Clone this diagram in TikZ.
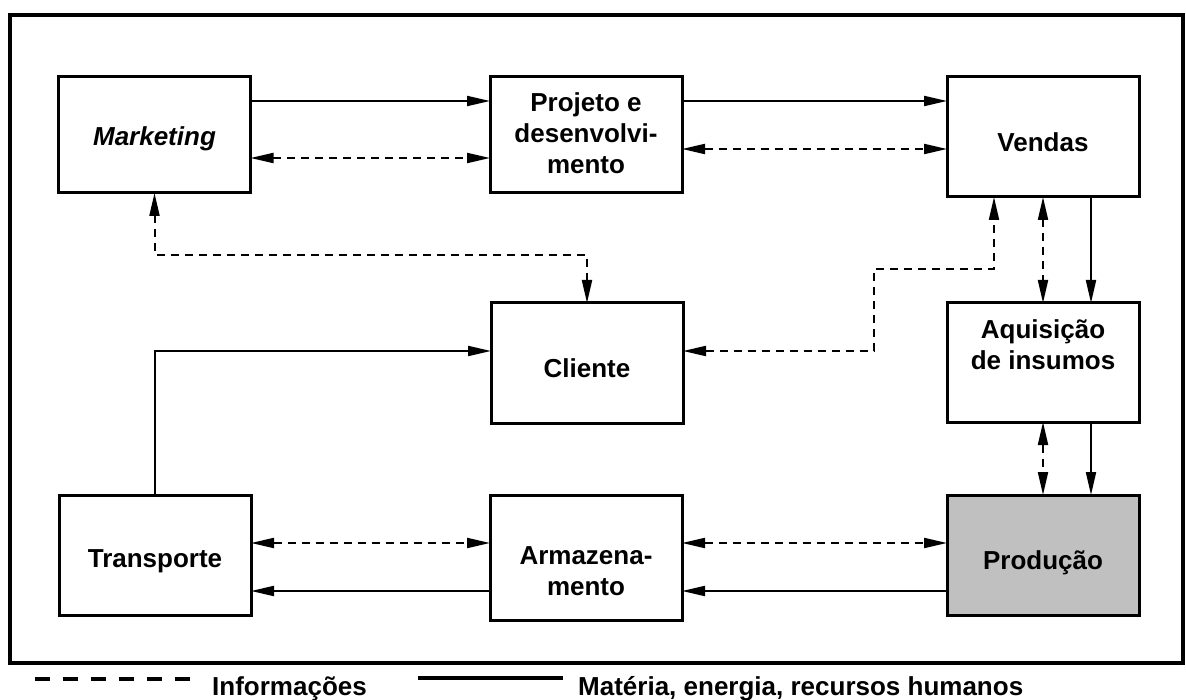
\documentclass[tikz,border=0pt]{standalone}
\usepackage{fontspec}
\setmainfont{Liberation Sans}
\usetikzlibrary{arrows.meta}
\definecolor{prodfill}{RGB}{192,192,192}
\begin{document}
\begin{tikzpicture}[x=1pt,y=-1pt,
  box/.style={draw,line width=3pt,minimum width=192pt,minimum height=120pt,
    inner sep=0pt,outer sep=0pt},
  boxtext/.style={font=\fontsize{26}{31}\selectfont\bfseries,align=center,inner sep=0pt},
  oneline/.style={text depth=0pt},
  tip/.tip={Triangle[length=23pt,width=10pt]},
  flow/.style={line width=2pt,-tip},
  info/.style={line width=2pt,dash pattern=on 8pt off 6pt,tip-tip},
  legendtext/.style={font=\fontsize{26}{31}\selectfont\bfseries,inner sep=0pt,anchor=base west},
]
\useasboundingbox (0,0) rectangle (1186,700);

% outer frame
\draw[line width=3.5pt] (10,15) rectangle (1183,663);

% boxes
\node[box,minimum height=116pt,
  label={[boxtext,oneline,yshift=-1pt]center:\itshape Marketing}] (mk) at (154.5,135) {};
\node[box,minimum height=116pt,
  label={[boxtext,yshift=2pt]center:Projeto e\\desenvolvi-\\mento}] (pj) at (586,135) {};
\node[box,
  label={[boxtext,oneline,yshift=-5pt]center:Vendas}] (vd) at (1043,137) {};
\node[box,
  label={[boxtext,oneline,yshift=-5pt]center:Cliente}] (cl) at (587,363) {};
\node[box,minimum height=119pt,
  label={[boxtext,yshift=17.5pt]center:Aquisição\\de insumos}] (aq) at (1043,362.5) {};
\node[box,
  label={[boxtext,oneline,yshift=-4pt]center:Transporte}] (tr) at (155,555) {};
\node[box,minimum height=125pt,
  label={[boxtext,yshift=-14pt]center:Armazena-\\mento}] (az) at (586,557.5) {};
\node[box,fill=prodfill,
  label={[boxtext,oneline,yshift=-5pt]center:Produção}] (pr) at (1043,555) {};

% top row
\draw[flow] (mk.east |- 0,101) -- (pj.west |- 0,101);
\draw[info] (mk.east |- 0,158) -- (pj.west |- 0,158);
\draw[flow] (pj.east |- 0,101) -- (vd.west |- 0,101);
\draw[info] (pj.east |- 0,149) -- (vd.west |- 0,149);

% information links to the client
\draw[info] (mk.south) |- (cl.north |- 0,255) -- (cl.north);
\draw[info] (cl.east |- 0,351) -| (874,269) -| (vd.south -| 994,0);

% sales, purchasing and production column
\draw[info] (vd.south) -- (aq.north);
\draw[flow] (vd.south -| 1091,0) -- (aq.north -| 1091,0);
\draw[info] (aq.south) -- (pr.north);
\draw[flow] (aq.south -| 1091,0) -- (pr.north -| 1091,0);

% transport to the client
\draw[flow] (tr.north) |- (cl.west |- 0,351);

% bottom row
\draw[info] (tr.east |- 0,543) -- (az.west |- 0,543);
\draw[flow] (az.west |- 0,591) -- (tr.east |- 0,591);
\draw[info] (az.east |- 0,543) -- (pr.west |- 0,543);
\draw[flow] (pr.west |- 0,591) -- (az.east |- 0,591);

% legend
\coordinate (ldash0) at (35,679);
\coordinate (ldash1) at (190,679);
\coordinate (lsol0) at (418,678);
\coordinate (lsol1) at (563,678);
\draw[line width=4pt,dash pattern=on 15pt off 13pt] (ldash0) -- (ldash1);
\node[legendtext] (linfo) at (212,695) {Informações};
\draw[line width=4pt] (lsol0) -- (lsol1);
\node[legendtext] (lmat) at (578,695) {Matéria, energia, recursos humanos};
\end{tikzpicture}
\end{document}
